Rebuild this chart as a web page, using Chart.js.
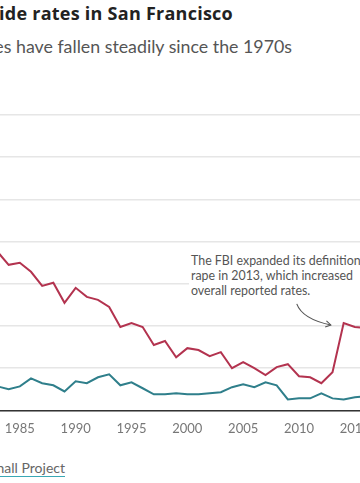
<!DOCTYPE html>
<html><head><meta charset="utf-8">
<script src="https://cdn.jsdelivr.net/npm/chart.js@4"></script>
<style>
html,body{margin:0;padding:0;background:#fff;}
body{width:360px;height:483px;overflow:hidden;position:relative;font-family:Lato,"Open Sans",sans-serif;}
.t{position:absolute;white-space:nowrap;}
#title{right:127px;top:1px;font-family:"Open Sans",sans-serif;font-weight:700;font-size:18px;letter-spacing:0.25px;color:#222;}
#sub{right:68px;top:35px;font-size:17.8px;color:#555;}
#note{left:189px;top:253px;padding:0 0 4px 2px;font-size:12.4px;line-height:15px;color:#555;background:#fff;}
#src{right:295px;top:459px;font-size:14px;color:#666;}
#src span{border-bottom:1px solid #3aa8b5;}
#wrap{position:absolute;left:-66px;top:100px;width:462px;height:357px;}
</style>
</head><body>
<div class="t" id="title">Rape and homicide rates in San Francisco</div>
<div class="t" id="sub">Rates have fallen steadily since the 1970s</div>
<div id="wrap"><canvas id="c"></canvas></div>
<div class="t" id="note">The FBI expanded its definition of<br>rape in 2013, which increased<br>overall reported rates.</div>
<div class="t" id="src">Source: <span>The Marshall Project</span></div>
<script>
const years = [1983,1984,1985,1986,1987,1988,1989,1990,1991,1992,1993,1994,1995,1996,1997,1998,1999,2000,2001,2002,2003,2004,2005,2006,2007,2008,2009,2010,2011,2012,2013,2014,2015,2016];
const rapeRate = [75.2,69.0,70.0,65.7,59.0,60.5,51.0,58.1,53.8,52.4,49.0,39.5,41.4,39.5,31.0,32.9,25.2,29.5,28.6,25.7,27.6,20.0,22.9,20.0,16.7,20.5,21.9,16.2,15.7,12.9,18.1,41.4,39.5,39.0];
const homicideRate = [11.4,10.0,11.4,15.2,12.9,11.9,9.0,13.8,12.9,15.7,17.1,11.9,13.3,10.5,7.6,7.6,8.1,7.6,7.6,8.1,8.6,11.0,12.4,11.0,13.3,11.9,5.2,5.7,5.7,8.1,5.7,5.2,6.2,6.7];
const yTicks = [0,20,40,60,80,100,120,140];
const xTickStep = 5;
const noteArrow = {from:[2009.8,50.5], ctrl:[2010.3,43.3], to:[2012.85,40.5]};

const arrowPlugin = {
  id:'arrow',
  afterDatasetsDraw(chart){
    const {ctx, scales:{x,y}} = chart;
    const p = a => [x.getPixelForValue(a[0]), y.getPixelForValue(a[1])];
    const f = p(noteArrow.from), c = p(noteArrow.ctrl), t = p(noteArrow.to);
    ctx.save();
    ctx.strokeStyle = '#555'; ctx.lineWidth = 1.1;
    ctx.beginPath(); ctx.moveTo(f[0],f[1]); ctx.quadraticCurveTo(c[0],c[1],t[0],t[1]); ctx.stroke();
    const ang = Math.atan2(t[1]-c[1], t[0]-c[0]);
    const L = 6;
    ctx.beginPath();
    ctx.moveTo(t[0]-L*Math.cos(ang-0.55), t[1]-L*Math.sin(ang-0.55));
    ctx.lineTo(t[0],t[1]);
    ctx.lineTo(t[0]-L*Math.cos(ang+0.55), t[1]-L*Math.sin(ang+0.55));
    ctx.stroke();
    ctx.restore();
  }
};

new Chart(document.getElementById('c'), {
  type:'line',
  data:{
    datasets:[
      {label:'Rape', data: years.map((yr,i)=>({x:yr,y:rapeRate[i]})), borderColor:'#b3334f', borderWidth:2, pointRadius:0, tension:0, fill:false},
      {label:'Homicide', data: years.map((yr,i)=>({x:yr,y:homicideRate[i]})), borderColor:'#2f7f8b', borderWidth:2, pointRadius:0, tension:0, fill:false}
    ]
  },
  options:{
    responsive:true, maintainAspectRatio:false, animation:false,
    layout:{padding:{left:30,right:30,top:15,bottom:10}},
    plugins:{legend:{display:false}, tooltip:{enabled:false}},
    scales:{
      x:{type:'linear', min:1980, max:2016,
         grid:{display:false, drawTicks:false},
         border:{display:true, color:'#333', width:1.5},
         ticks:{stepSize:xTickStep, includeBounds:false, padding:10.5, color:'#777', font:{family:'Lato', size:13}, callback:v=>String(v), maxRotation:0, autoSkip:false}},
      y:{min:yTicks[0], max:yTicks[yTicks.length-1],
         afterBuildTicks:s=>{s.ticks = yTicks.map(v=>({value:v}));},
         grid:{color:'#e6e6e6', lineWidth:1.5, drawTicks:false},
         border:{display:false},
         ticks:{display:false, padding:0}}
    }
  },
  plugins:[arrowPlugin]
});
</script>
</body></html>
